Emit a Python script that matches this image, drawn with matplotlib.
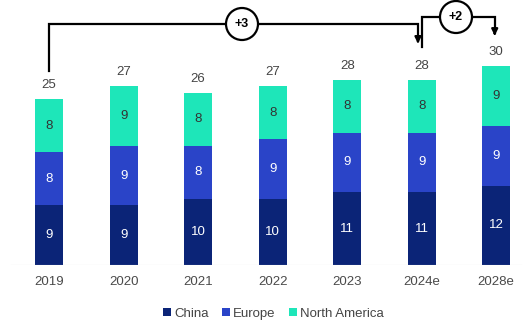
import numpy as np
import matplotlib.pyplot as plt
from matplotlib.patches import Circle

years = ["2019", "2020", "2021", "2022", "2023", "2024e", "2028e"]
china = [9, 9, 10, 10, 11, 11, 12]
europe = [8, 9, 8, 9, 9, 9, 9]
north_america = [8, 9, 8, 8, 8, 8, 9]
totals = [25, 27, 26, 27, 28, 28, 30]

c_china = "#0b2477"
c_europe = "#2a44c8"
c_na = "#1ee6b9"

plt.rcParams['font.family'] = ['Liberation Sans', 'DejaVu Sans']

fig = plt.figure(figsize=(5.26, 3.22), dpi=100)
ax = fig.add_axes([0, 0.177, 1, 0.823])

x = np.arange(len(years))
w = 0.38
ax.bar(x, china, w, color=c_china, label="China")
ax.bar(x, europe, w, bottom=china, color=c_europe, label="Europe")
bot2 = np.array(china) + np.array(europe)
ax.bar(x, north_america, w, bottom=bot2, color=c_na, label="North America")

for i in range(len(years)):
    ax.text(x[i], china[i] / 2, str(china[i]), ha="center", va="center", color="white", fontsize=9.5)
    ax.text(x[i], china[i] + europe[i] / 2, str(europe[i]), ha="center", va="center", color="white", fontsize=9.5)
    ax.text(x[i], bot2[i] + north_america[i] / 2, str(north_america[i]), ha="center", va="center", color="#333333", fontsize=9.5)
    ax.text(x[i], totals[i] + 2.1, str(totals[i]), ha="center", va="center", color="#444444", fontsize=9.5)

ax.set_xlim(-0.66, 6.40)
ax.set_ylim(0, 40)
ax.axhline(0, xmin=0.02, xmax=0.99, color="#cccccc", lw=0.8)
for s in ax.spines.values():
    s.set_visible(False)
ax.set_yticks([])
ax.set_xticks([])
for i in range(len(years)):
    ax.text(x[i], -2.6, years[i], ha="center", va="center", color="#4a4a4a", fontsize=9.5)

# +3 connector, 2019 -> 2024e
ax.plot([0, 0, 4.95, 4.95], [29.3, 36.4, 36.4, 33.8], color="black", lw=1.6, solid_joinstyle="miter")
ax.annotate("", xy=(4.95, 33.0), xytext=(4.95, 34.5),
            arrowprops=dict(arrowstyle="-|>", color="black", lw=1.6, mutation_scale=9))
# +2 connector, 2024e -> 2028e
ax.plot([5.0, 5.0, 5.98, 5.98], [32.9, 37.5, 37.5, 35.0], color="black", lw=1.6, solid_joinstyle="miter")
ax.annotate("", xy=(5.98, 34.2), xytext=(5.98, 35.5),
            arrowprops=dict(arrowstyle="-|>", color="black", lw=1.6, mutation_scale=9))

for cx, cy, lab in [(242, 24, "+3"), (456, 17, "+2")]:
    circ = Circle((cx, 322 - cy), 16, transform=None, facecolor="white", edgecolor="black", lw=1.6, zorder=5)
    fig.patches.append(circ)
    fig.text(cx / 526, 1 - cy / 322, lab, ha="center", va="center", fontsize=9, fontweight="bold", zorder=6)

fig.legend(loc="lower center", bbox_to_anchor=(0.52, -0.03), ncol=3, frameon=False, fontsize=9.5,
           handlelength=0.6, handleheight=0.6, handletextpad=0.25, columnspacing=1.0, labelcolor="#444444")

fig.savefig("out.png", dpi=100)
